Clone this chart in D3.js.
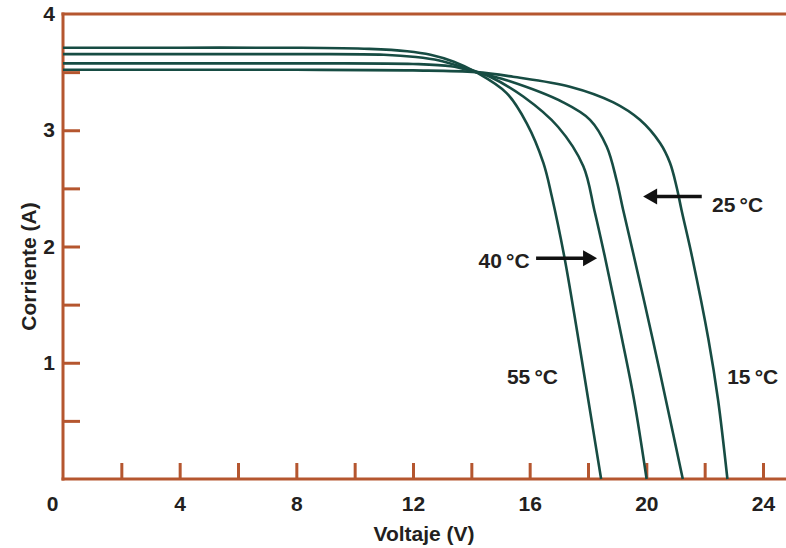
<!DOCTYPE html>
<html>
<head>
<meta charset="utf-8">
<script src="https://cdn.jsdelivr.net/npm/d3@7"></script>
<style>
    body { margin: 0; background: #fff; }
    #chart { width: 786px; height: 548px; }
    text { font-family: "Liberation Sans", Arial, sans-serif; font-weight: bold; fill: #231f20; }
</style>
</head>
<body>
<div id="chart"></div>
<script>

/*  I-V curves: voltage (V) and current (A) per temperature  */
const temps = ["15", "25", "40", "55"];

const volts15 = [0, 4, 8, 12, 14.16, 15.43, 17.38, 18.87, 19.78, 20.47, 20.81, 21.04, 21.21, 21.57, 22.13, 22.46, 22.78];
const amps15  = [3.52, 3.52, 3.52, 3.515, 3.50, 3.46, 3.375, 3.24, 3.09, 2.89, 2.72, 2.51, 2.31, 1.91, 1.20, 0.68, 0];

const volts25 = [0, 4, 8, 12, 13.3, 14.16, 15.21, 17.15, 18.07, 18.64, 18.98, 19.21, 19.58, 20.22, 20.67, 21.25];
const amps25  = [3.575, 3.575, 3.575, 3.57, 3.55, 3.50, 3.43, 3.24, 3.09, 2.86, 2.57, 2.31, 1.91, 1.20, 0.68, 0];

const volts40 = [0, 4, 8, 11.0, 12.1, 12.9, 13.6, 14.16, 14.64, 15.78, 16.97, 17.84, 18.22, 18.58, 19.17, 19.58, 20.01];
const amps40  = [3.655, 3.655, 3.655, 3.65, 3.63, 3.60, 3.55, 3.505, 3.46, 3.29, 3.03, 2.69, 2.31, 1.91, 1.20, 0.68, 0];

const volts55 = [0, 4, 8, 10.5, 11.8, 12.6, 13.4, 14.16, 15.21, 15.90, 16.47, 16.76, 17.19, 17.62, 18.01, 18.45];
const amps55  = [3.71, 3.71, 3.71, 3.70, 3.68, 3.65, 3.59, 3.50, 3.32, 3.06, 2.72, 2.43, 1.91, 1.28, 0.68, 0];

const xMinorTicks = [2, 4, 6, 8, 10, 12, 14, 16, 18, 20, 22, 24];
const xTickLabels = [0, 4, 8, 12, 16, 20, 24];
const yMinorTicks = [0.5, 1, 1.5, 2, 2.5, 3, 3.5];
const yTickLabels = [1, 2, 3, 4];

/*  temperature labels and arrows, in data units (V, A)  */
const labelTemps  = ["25", "40", "55", "15"];
const labelV      = [22.25, 16.0, 15.22, 22.77];
const labelI      = [2.30, 1.815, 0.82, 0.82];
const labelAnchor = ["start", "end", "start", "start"];
const arrowFromV  = [21.9, 16.22];
const arrowToV    = [19.89, 18.31];
const arrowI      = [2.43, 1.90];

function IVChart() {

    let self = this;

    self.initialize = function(conf) {

        self.el = document.getElementById(conf.el);
        self.margin = {top: 14, right: 23, bottom: 69, left: 63};
        self.graphWidth = 786;
        self.graphHeight = 548;
        self.width = self.graphWidth - self.margin.left - self.margin.right;
        self.height = self.graphHeight - self.margin.top - self.margin.bottom;

        self.axisColor = "#b5562f";
        self.curveColor = "#174c43";

        let volts = {"15": volts15, "25": volts25, "40": volts40, "55": volts55};
        let amps  = {"15": amps15,  "25": amps25,  "40": amps40,  "55": amps55};

        self.series = temps.map(function(t) {
            return {temp: t, points: volts[t].map(function(v, i) { return {v: v, i: amps[t][i]}; })};
        });
        self.parseData();
    }

    self.parseData = function() {
        self.xScale = d3.scaleLinear().domain([0, 24]).range([0, self.width]);
        self.yScale = d3.scaleLinear().domain([0, 4]).range([self.height, 0]);
        self.render();
    }

    self.render = function() {
        self.getChartingAreaPane();
        self.renderAxes();
        self.renderCurves();
        self.renderLabels();
    }

    self.getChartingAreaPane = function() {
        self.svg = d3.select(self.el).append("svg")
                        .attr("width", self.graphWidth)
                        .attr("height", self.graphHeight)
                        .append("g")
                        .attr("transform", "translate(" + self.margin.left + "," + self.margin.top + ")");
    }

    self.renderAxes = function() {

        let fullRight = self.graphWidth - self.margin.left;

        /*  inner ticks  */
        let xTicks = self.svg.append("g")
                        .attr("transform", "translate(0," + self.height + ")")
                        .call(d3.axisBottom(self.xScale).tickValues(xMinorTicks).tickSize(-16).tickSizeOuter(0).tickFormat(""));
        let yTicks = self.svg.append("g")
                        .call(d3.axisRight(self.yScale).tickValues(yMinorTicks).tickSize(17).tickSizeOuter(0).tickFormat(""));

        [xTicks, yTicks].forEach(function(g) {
            g.select(".domain").remove();
            g.selectAll("line").attr("stroke", self.axisColor).attr("stroke-width", 3);
        });

        /*  frame lines: left, bottom and top run to the right edge  */
        let frame = self.svg.append("g")
                        .attr("stroke", self.axisColor)
                        .attr("stroke-width", 3)
                        .attr("stroke-linecap", "square");
        frame.append("line").attr("x1", 0).attr("x2", 0).attr("y1", self.yScale(4)).attr("y2", self.yScale(0));
        frame.append("line").attr("x1", 0).attr("x2", fullRight).attr("y1", self.yScale(0)).attr("y2", self.yScale(0));
        frame.append("line").attr("x1", 0).attr("x2", fullRight).attr("y1", self.yScale(4)).attr("y2", self.yScale(4));

        /*  tick labels  */
        let xLabels = self.svg.append("g")
                        .attr("transform", "translate(0," + self.height + ")")
                        .call(d3.axisBottom(self.xScale).tickValues(xTickLabels).tickSize(0).tickPadding(17)
                                .tickFormat(d3.format("d")));
        let yLabels = self.svg.append("g")
                        .call(d3.axisLeft(self.yScale).tickValues(yTickLabels).tickSize(0).tickPadding(8)
                                .tickFormat(d3.format("d")));

        [xLabels, yLabels].forEach(function(g) {
            g.attr("font-family", null).attr("font-size", null);
            g.select(".domain").remove();
            g.selectAll("text")
                .style("font-size", "21px")
                .attr("fill", "#231f20");
        });
        xLabels.selectAll(".tick").filter(function(d) { return d === 0; })
                .select("text").attr("dx", -11);

        /*  axis titles  */
        self.svg.append("text")
                .attr("x", self.width / 2 + 11)
                .attr("y", self.height + 62)
                .attr("text-anchor", "middle")
                .style("font-size", "21px")
                .text("Voltaje (V)");

        self.svg.append("text")
                .attr("transform", "translate(" + (-27) + "," + (self.height / 2 + 20) + ") rotate(-90)")
                .attr("text-anchor", "middle")
                .style("font-size", "21px")
                .text("Corriente (A)");
    }

    self.renderCurves = function() {

        let line = d3.line()
                    .x(function(d) { return self.xScale(d.v); })
                    .y(function(d) { return self.yScale(d.i); })
                    .curve(d3.curveCatmullRom.alpha(0.5));

        self.svg.selectAll(".iv-curve")
                .data(self.series)
                .enter().append("path")
                .attr("class", "iv-curve")
                .attr("d", function(d) { return line(d.points); })
                .attr("fill", "none")
                .attr("stroke", self.curveColor)
                .attr("stroke-width", 2.6);
    }

    self.renderLabels = function() {

        self.svg.selectAll(".temp-label")
                .data(labelTemps)
                .enter().append("text")
                .attr("class", "temp-label")
                .attr("x", function(d, i) { return self.xScale(labelV[i]); })
                .attr("y", function(d, i) { return self.yScale(labelI[i]); })
                .attr("text-anchor", function(d, i) { return labelAnchor[i]; })
                .style("font-size", "21px")
                .text(function(d) { return d + "\u2009\u00b0C"; });

        /*  arrows pointing at the 25 and 40 curves  */
        arrowToV.forEach(function(tip, i) {
            let x1 = self.xScale(arrowFromV[i]),
                x2 = self.xScale(tip),
                y  = self.yScale(arrowI[i]),
                dir = x2 > x1 ? 1 : -1;

            self.svg.append("line")
                    .attr("x1", x1).attr("x2", x2 - dir * 10)
                    .attr("y1", y).attr("y2", y)
                    .attr("stroke", "#111")
                    .attr("stroke-width", 3.5);

            self.svg.append("path")
                    .attr("d", "M" + x2 + "," + y +
                               "L" + (x2 - dir * 14) + "," + (y - 8) +
                               "L" + (x2 - dir * 14) + "," + (y + 8) + "Z")
                    .attr("fill", "#111");
        });
    }
}

let chart = new IVChart();
chart.initialize({el: "chart"});

</script>
</body>
</html>
